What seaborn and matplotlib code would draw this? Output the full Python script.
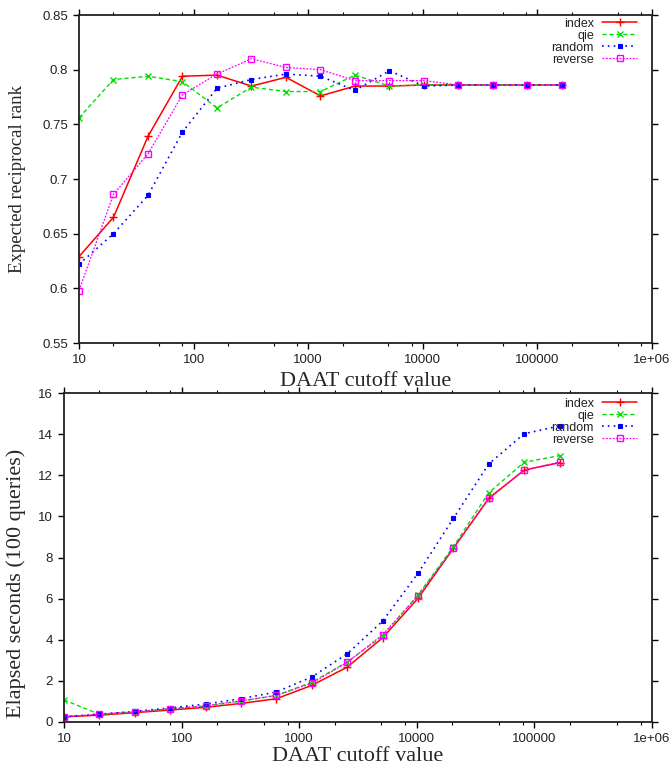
import matplotlib
matplotlib.use("Agg")
import matplotlib.pyplot as plt
import seaborn as sns
import numpy as np
import pandas as pd
from matplotlib.ticker import FixedLocator, NullFormatter

# DAAT cutoff values (x axis)
cutoffs = [10, 20, 40, 80, 160, 320, 640, 1280, 2560, 5120, 10240,
           20480, 40960, 81920, 163840]

# Expected reciprocal rank per ordering
err_index = [0.629, 0.665, 0.739, 0.794, 0.795, 0.785, 0.793, 0.776, 0.785,
             0.785, 0.786, 0.786, 0.786, 0.786, 0.786]
err_qie = [0.756, 0.791, 0.794, 0.789, 0.765, 0.784, 0.780, 0.780, 0.795,
           0.785, 0.786, 0.786, 0.786, 0.786, 0.786]
err_random = [0.622, 0.650, 0.685, 0.743, 0.783, 0.791, 0.796, 0.794, 0.781,
              0.799, 0.785, 0.786, 0.786, 0.786, 0.786]
err_reverse = [0.598, 0.686, 0.723, 0.777, 0.796, 0.810, 0.802, 0.800, 0.790,
               0.790, 0.790, 0.786, 0.786, 0.786, 0.786]

# Elapsed seconds for 100 queries
sec_index = [0.24, 0.32, 0.44, 0.57, 0.70, 0.89, 1.12, 1.77, 2.66, 4.09,
             6.01, 8.45, 10.88, 12.26, 12.62]
sec_qie = [1.06, 0.36, 0.47, 0.63, 0.76, 1.00, 1.28, 1.92, 2.91, 4.17,
           6.17, 8.53, 11.16, 12.64, 12.96]
sec_random = [0.24, 0.37, 0.50, 0.67, 0.86, 1.12, 1.45, 2.18, 3.31, 4.90,
              7.23, 9.91, 12.56, 14.03, 14.41]
sec_reverse = [0.24, 0.37, 0.49, 0.63, 0.78, 1.02, 1.28, 1.87, 2.89, 4.24,
               6.14, 8.45, 10.92, 12.26, 12.65]

series_names = ["index", "qie", "random", "reverse"]
x_ticks = [10, 100, 1000, 10000, 100000, 1000000]
x_tick_labels = ["10", "100", "1000", "10000", "100000", "1e+06"]
err_ticks = [0.55, 0.6, 0.65, 0.7, 0.75, 0.8, 0.85]
err_tick_labels = ["0.55", "0.6", "0.65", "0.7", "0.75", "0.8", "0.85"]
sec_ticks = [0, 2, 4, 6, 8, 10, 12, 14, 16]

sns.set_theme(style="white")
plt.rcParams["font.family"] = ["Liberation Sans", "DejaVu Sans"]

styles = {
    "index":   dict(color="#ff0000", linestyle="-", marker="+", markersize=6,
                    markeredgewidth=1.0, markeredgecolor="#ff0000", linewidth=1.1),
    "qie":     dict(color="#00e000", linestyle=(0, (3, 2)), marker="x",
                    markersize=4.5, markeredgewidth=1.0, markeredgecolor="#00e000",
                    linewidth=1.0),
    "random":  dict(color="#0000ff", linestyle=(0, (1, 2.5)), marker="s",
                    markersize=3.3, markeredgewidth=0.8, markeredgecolor="#0000ff",
                    markerfacecolor="#0000ff", linewidth=1.2),
    "reverse": dict(color="#ff00ff", linestyle=(0, (1.5, 1.2)), marker="s",
                    markersize=5, markeredgewidth=1.0, markeredgecolor="#ff00ff",
                    markerfacecolor="none", linewidth=0.9),
}

fig = plt.figure(figsize=(6.72, 7.67), dpi=100)
ax1 = fig.add_axes([79 / 672, 1 - 343 / 767, (652 - 79) / 672, (343 - 15) / 767])
ax2 = fig.add_axes([64 / 672, 1 - 721.7 / 767, (652 - 64) / 672, (721.7 - 393.3) / 767])


def build_frame(cols):
    rows = []
    for name, vals in zip(series_names, cols):
        for c, v in zip(cutoffs, vals):
            rows.append({"cutoff": c, "value": v, "ordering": name})
    return pd.DataFrame(rows)


def draw(ax, df):
    for name in series_names:
        sub = df[df["ordering"] == name]
        sns.lineplot(data=sub, x="cutoff", y="value", ax=ax, label=name,
                     **styles[name])


def style_axes(ax, yticks, ylabels, ylim, ylabel, ylabel_size, ylabel_xy, xpad):
    ax.set_xscale("log")
    ax.set_xlim(10, 1e6)
    ax.set_ylim(*ylim)
    ax.xaxis.set_major_locator(FixedLocator(x_ticks))
    ax.set_xticklabels(x_tick_labels)
    minors = [m * d for d in [10, 100, 1000, 10000, 100000] for m in (2, 5, 8)]
    ax.xaxis.set_minor_locator(FixedLocator(minors))
    ax.xaxis.set_minor_formatter(NullFormatter())
    ax.set_yticks(yticks)
    ax.set_yticklabels(ylabels)
    ax.tick_params(axis="both", which="major", direction="out", length=4,
                   width=1.0, color="black", labelsize=9.5, labelcolor="#222222",
                   top=True, right=True, bottom=True, left=True, pad=4)
    ax.tick_params(axis="x", which="minor", direction="out", length=2,
                   width=0.8, color="black", top=True, bottom=True)
    for sp in ax.spines.values():
        sp.set_color("#222222")
        sp.set_linewidth(1.3)
    ax.set_xlabel("DAAT cutoff value", family=["Liberation Serif"], fontsize=16,
                  labelpad=xpad)
    ax.set_ylabel(ylabel, family=["Liberation Serif"], fontsize=ylabel_size)
    ax.yaxis.set_label_coords(*ylabel_xy)
    ax.grid(False)


def right_legend(ax, anchor):
    # markerfirst=False right-aligns the rows, so labels end at the line samples
    leg = ax.legend(loc="upper right", markerfirst=False, frameon=False,
                    fontsize=9, handlelength=2.8, handletextpad=0.65,
                    labelspacing=0.0, borderaxespad=0.0, borderpad=0.0,
                    bbox_to_anchor=anchor)
    for t in leg.get_texts():
        t.set_color("#222222")


draw(ax1, build_frame([err_index, err_qie, err_random, err_reverse]))
style_axes(ax1, err_ticks, err_tick_labels, (0.55, 0.85),
           "Expected reciprocal rank", 13.5, (-0.0925, 0.5), 4.3)

draw(ax2, build_frame([sec_index, sec_qie, sec_random, sec_reverse]))
style_axes(ax2, sec_ticks, [str(v) for v in sec_ticks], (0, 16),
           "Elapsed seconds (100 queries)", 16, (-0.0646, 0.422), 1.5)

right_legend(ax1, (0.974, 0.992))
right_legend(ax2, (0.9745, 0.987))

fig.savefig("out.png", dpi=100)
